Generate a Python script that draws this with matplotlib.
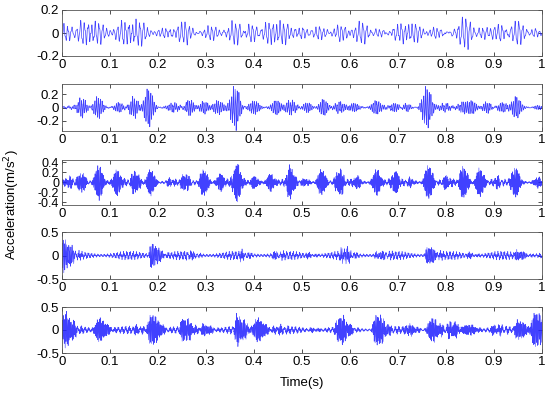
import numpy as np
import matplotlib
matplotlib.use('Agg')
import matplotlib.pyplot as plt

plt.rcParams['font.family'] = ['Liberation Sans', 'DejaVu Sans']

# burst centre times (s) and peak amplitudes (m/s^2)
p1_times = [0.01, 0.045, 0.075, 0.13, 0.16, 0.215, 0.255, 0.31, 0.36, 0.395, 0.43, 0.46,
            0.5, 0.535, 0.58, 0.625, 0.66, 0.705, 0.735, 0.78, 0.84, 0.875, 0.915, 0.95, 0.985]
p1_amps = [0.09, 0.12, 0.11, 0.12, 0.13, 0.05, 0.1, 0.07, 0.11, 0.09, 0.11, 0.1,
           0.06, 0.07, 0.07, 0.11, 0.04, 0.1, 0.09, 0.05, 0.16, 0.06, 0.08, 0.12, 0.04]

p2_times = [0.04, 0.075, 0.12, 0.15, 0.18, 0.23, 0.265, 0.295, 0.325, 0.36, 0.4, 0.445,
            0.475, 0.51, 0.545, 0.58, 0.61, 0.655, 0.69, 0.718, 0.76, 0.795, 0.836, 0.855,
            0.885, 0.92, 0.947, 0.99]
p2_amps = [0.15, 0.17, 0.08, 0.15, 0.3, 0.08, 0.12, 0.1, 0.12, 0.34, 0.12, 0.12,
           0.13, 0.08, 0.13, 0.1, 0.07, 0.12, 0.07, 0.05, 0.33, 0.07, 0.1, 0.1,
           0.08, 0.08, 0.17, 0.03]

p3_times = [0.013, 0.04, 0.076, 0.114, 0.152, 0.184, 0.225, 0.256, 0.295, 0.33, 0.364,
            0.4, 0.434, 0.475, 0.506, 0.54, 0.578, 0.614, 0.655, 0.694, 0.725, 0.763,
            0.8, 0.836, 0.87, 0.905, 0.944, 0.99]
p3_amps = [0.1, 0.2, 0.36, 0.27, 0.23, 0.27, 0.07, 0.18, 0.28, 0.18, 0.4,
           0.13, 0.18, 0.32, 0.08, 0.27, 0.27, 0.13, 0.27, 0.23, 0.08, 0.36,
           0.13, 0.34, 0.3, 0.1, 0.32, 0.1]

p4_times = [0.002, 0.185, 0.26, 0.37, 0.44, 0.51, 0.583, 0.655, 0.76, 0.843, 0.947]
p4_amps = [0.34, 0.26, 0.06, 0.06, 0.06, 0.04, 0.16, 0.08, 0.2, 0.05, 0.11]

p5_times = [0.005, 0.075, 0.155, 0.185, 0.253, 0.295, 0.365, 0.405, 0.447, 0.52,
            0.578, 0.655, 0.72, 0.768, 0.81, 0.845, 0.9, 0.95, 0.985]
p5_amps = [0.36, 0.26, 0.07, 0.36, 0.26, 0.12, 0.3, 0.26, 0.07, 0.04,
           0.31, 0.36, 0.12, 0.26, 0.17, 0.12, 0.09, 0.21, 0.4]

ylims = [0.2, 0.35, 0.45, 0.5, 0.5]
yticks = [[-0.2, 0, 0.2], [-0.2, 0, 0.2], [-0.4, -0.2, 0, 0.2, 0.4],
          [-0.5, 0, 0.5], [-0.5, 0, 0.5]]
xticks = [0, 0.1, 0.2, 0.3, 0.4, 0.5, 0.6, 0.7, 0.8, 0.9, 1]


def signal(t, times, amps, f, rise, decay, base, f2):
    s = np.zeros_like(t)
    for tk, a in zip(times, amps):
        d = t - tk
        env = np.where(d < 0, np.exp(-(d / rise) ** 2), np.exp(-(d / decay) ** 2))
        s += a * env * (0.75 * np.sin(2 * np.pi * f * d) + 0.25 * np.sin(2 * np.pi * f * 2.37 * d))
    # low-level background vibration
    s += base * (0.65 + 0.35 * np.sin(2 * np.pi * 9 * t)) * (
        0.5 * np.sin(2 * np.pi * f2 * t) + 0.5 * np.sin(2 * np.pi * f * 1.13 * t))
    return s


t = np.linspace(0, 1, 5000)
sigs = [
    signal(t, p1_times, p1_amps, 125, 0.018, 0.018, 0.02, 60),
    signal(t, p2_times, p2_amps, 260, 0.011, 0.012, 0.03, 90),
    signal(t, p3_times, p3_amps, 520, 0.009, 0.011, 0.07, 140),
    signal(t, p4_times, p4_amps, 430, 0.003, 0.022, 0.1, 150),
    signal(t, p5_times, p5_amps, 480, 0.007, 0.022, 0.09, 130),
]

fig = plt.figure(figsize=(5.5, 3.96), dpi=100)
W, H = 550.0, 396.0
boxes = [(10, 56), (84, 131), (160, 205), (232, 279), (307, 353)]
left, right = 62, 542

for i in range(5):
    top, bot = boxes[i]
    ax = fig.add_axes([left / W, 1 - bot / H, (right - left) / W, (bot - top) / H])
    lw = 0.5 if i < 2 else 0.4
    ax.plot(t, sigs[i], color='#2020ff', lw=lw, alpha=0.85)
    ax.set_xlim(0, 1)
    ax.set_ylim(-ylims[i], ylims[i])
    ax.set_xticks(xticks)
    ax.set_xticklabels(['0', '0.1', '0.2', '0.3', '0.4', '0.5', '0.6', '0.7', '0.8', '0.9', '1'])
    ax.set_yticks(yticks[i])
    ax.set_yticklabels(['%g' % v for v in yticks[i]])
    ax.tick_params(direction='in', top=True, right=True, length=3, width=0.6,
                   labelsize=9.5, pad=2, colors='#333333')
    ax.tick_params(labelcolor='black')
    if i == 2:
        ax.tick_params(axis='y', labelsize=9)
    for sp in ax.spines.values():
        sp.set_linewidth(0.6)
        sp.set_color('#555555')

fig.text(12 / W, 1 - 205 / H, 'Acceleration(m/s$^2$)', rotation=90, ha='center', va='center',
         fontsize=9.5)
fig.text((left + right) / 2 / W, 1 - 383 / H, 'Time(s)', ha='center', va='center', fontsize=9.5)

fig.savefig('out.png', dpi=100)
